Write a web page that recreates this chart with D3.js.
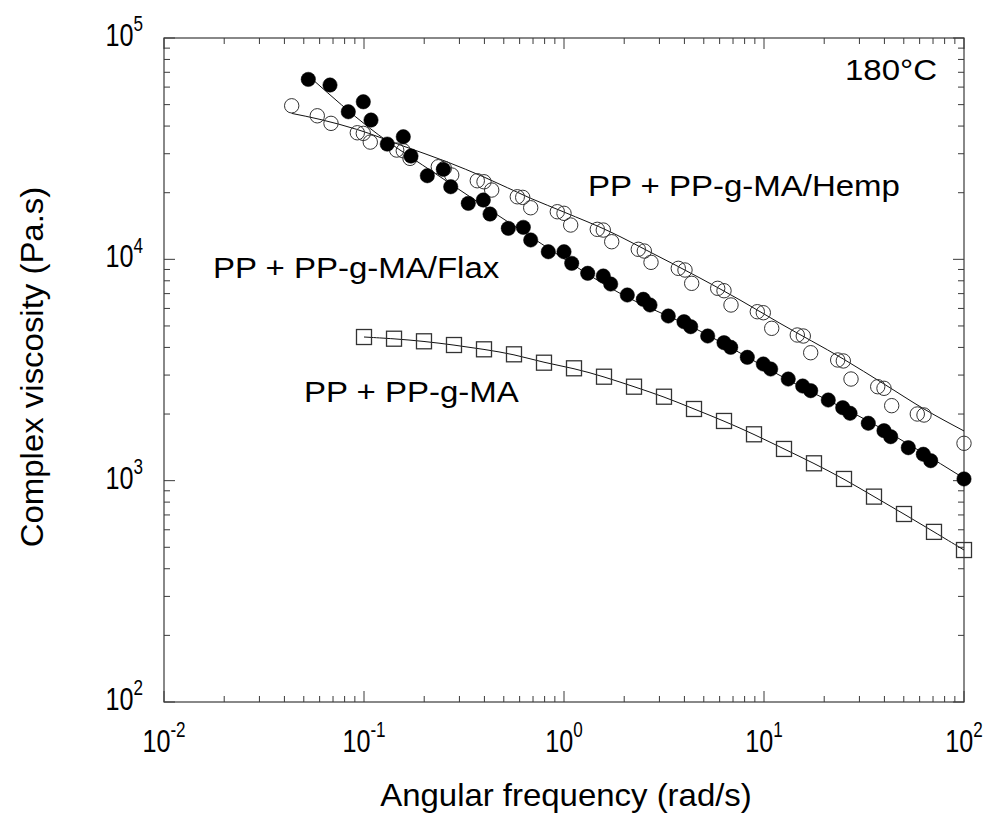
<!DOCTYPE html>
<html>
<head>
<meta charset="utf-8">
<script src="https://cdn.jsdelivr.net/npm/d3@7"></script>
<style>
  html, body { margin: 0; padding: 0; background: #fff; }
  svg { display: block; font-family: Arial, "Liberation Sans", sans-serif; }
</style>
</head>
<body>
<svg id="chart" width="992" height="819"></svg>
<script>
// Complex viscosity sweeps at 180 °C (rad/s vs Pa.s)

// PP + PP-g-MA/Hemp (open circles)
const hempFreq = [0.0435, 0.0584, 0.0684, 0.0926, 0.0992, 0.1075, 0.1457, 0.1572, 0.1698,
  0.2352, 0.2521, 0.2745, 0.3685, 0.3981, 0.435, 0.5841, 0.6216, 0.6816, 0.9258, 1.0, 1.08,
  1.467, 1.572, 1.732, 2.352, 2.521, 2.723, 3.728, 4.027, 4.35, 5.868, 6.31, 6.839,
  9.258, 9.92, 10.93, 14.67, 15.72, 17.12, 23.36, 24.92, 27.23, 37.03, 39.81, 43.5,
  58.41, 63.1, 100];
const hempVisc = [49400, 44520, 41150, 37310, 37080, 33860, 31170, 30940, 28590,
  26200, 25760, 24040, 22650, 22410, 20560, 19170, 19050, 17100, 16410, 16140, 14290,
  13660, 13560, 12010, 11100, 10900, 9692, 9106, 8948, 7791, 7396, 7214, 6219,
  5799, 5739, 4879, 4551, 4504, 3785, 3510, 3474, 2879, 2658, 2614, 2182,
  2001, 1980, 1475];

// PP + PP-g-MA/Flax (filled circles)
const flaxFreq = [0.05266, 0.06761, 0.08346, 0.0992, 0.1084, 0.1307, 0.1572, 0.1718,
  0.2073, 0.2492, 0.2714, 0.3322, 0.3949, 0.4266, 0.5266, 0.6259, 0.6816, 0.8346, 1.0, 1.093,
  1.314, 1.572, 1.712, 2.073, 2.492, 2.692, 3.322, 3.981, 4.3, 5.23, 6.31, 6.816,
  8.251, 9.92, 10.8, 13.22, 15.61, 17.12, 20.96, 24.75, 26.92, 33.22, 39.81, 43.0,
  52.66, 62.59, 68.16, 100];
const flaxVisc = [65010, 61300, 46420, 51500, 42580, 33170, 35790, 29280,
  23860, 25500, 21280, 17900, 18530, 16020, 13800, 13950, 12230, 10820, 10820, 9592,
  8647, 8407, 7734, 6900, 6597, 6219, 5545, 5226, 4962, 4504, 4201, 4004,
  3609, 3366, 3195, 2879, 2677, 2550, 2314, 2136, 2016, 1817, 1682, 1580,
  1409, 1316, 1231, 1018];

// PP + PP-g-MA (open squares)
const maFreq = [0.1, 0.1413, 0.1995, 0.2818, 0.3981, 0.5623, 0.7943, 1.122, 1.585, 2.239,
  3.162, 4.467, 6.31, 8.913, 12.59, 17.78, 25.12, 35.48, 50.12, 70.79, 100];
const maVisc = [4457, 4379, 4263, 4101, 3922, 3723, 3412, 3219, 2949, 2658,
  2395, 2108, 1861, 1620, 1391, 1198, 1018, 847, 707, 587, 486];

// Fitted curves
const hempFitFreq = [0.0435, 0.06026, 0.09194, 0.1572, 0.2592, 0.3981, 0.6816, 1.0, 1.698,
  2.692, 4.786, 7.586, 12.02, 24.92, 39.81, 63.1, 100];
const hempFitVisc = [45640, 42880, 38660, 32490, 27600, 23540, 18860, 16350, 13330,
  10790, 8233, 6549, 5139, 3546, 2734, 2108, 1677];
const flaxFitFreq = [0.05578, 0.1072, 0.2399, 0.6816, 1.905, 4.786, 13.49, 33.88, 100];
const flaxFitVisc = [64530, 39060, 23620, 12650, 7022, 4745, 2820, 1841, 1025];

// Axis decades
const xDecades = [-2, -1, 0, 1, 2];
const yDecades = [2, 3, 4, 5];

// In-plot annotations, placed in data coordinates
const labels = [
  { text: "180°C", x: 73.3, y: 64530, anchor: "end" },
  { text: "PP + PP-g-MA/Hemp", x: 1.318, y: 19310, anchor: "start" },
  { text: "PP + PP-g-MA/Flax", x: 0.01758, y: 8233, anchor: "start" },
  { text: "PP + PP-g-MA", x: 0.0501, y: 2267, anchor: "start" }
];

const svg = d3.select("#chart");
const margin = { left: 164, right: 28, top: 38, bottom: 117 };
const W = 992, H = 819;
const x = d3.scaleLog().domain([1e-2, 1e2]).range([margin.left, W - margin.right]);
const y = d3.scaleLog().domain([1e2, 1e5]).range([H - margin.bottom, margin.top]);

const axisColor = "#3a3a3a";
const x0 = x.range()[0], x1 = x.range()[1], y0 = y.range()[0], y1 = y.range()[1];

// ticks: majors at decades, minors at 2..9, drawn inward on all four sides
function tickVals(dom) {
  const out = [];
  for (let e = Math.log10(dom[0]); e < Math.log10(dom[1]); e++) {
    for (let m = 1; m < 10; m++) out.push({ v: m * Math.pow(10, e), major: m === 1 });
  }
  out.push({ v: dom[1], major: true });
  return out;
}
const majorLen = 11, minorLen = 6;
const tg = svg.append("g").attr("stroke", axisColor).attr("stroke-width", 1);
tickVals(x.domain()).forEach(t => {
  const px = x(t.v), L = t.major ? majorLen : minorLen;
  tg.append("line").attr("x1", px).attr("x2", px).attr("y1", y0).attr("y2", y0 - L);
  tg.append("line").attr("x1", px).attr("x2", px).attr("y1", y1).attr("y2", y1 + L);
});
tickVals(y.domain()).forEach(t => {
  const py = y(t.v), L = t.major ? majorLen : minorLen;
  tg.append("line").attr("x1", x0).attr("x2", x0 + L).attr("y1", py).attr("y2", py);
  tg.append("line").attr("x1", x1).attr("x2", x1 - L).attr("y1", py).attr("y2", py);
});
svg.append("rect").attr("x", x0).attr("y", y1).attr("width", x1 - x0).attr("height", y0 - y1)
  .attr("fill", "none").attr("stroke", axisColor).attr("stroke-width", 1.2);

// tick labels: 10 with a raised exponent, in a tall narrow face
function powLabel(g, e, px, py, anchor) {
  const t = g.append("text").attr("transform", `translate(${px},${py}) scale(0.9,1.13)`)
    .attr("text-anchor", anchor).attr("font-size", 28).attr("fill", "#000");
  t.append("tspan").text("10");
  t.append("tspan").attr("dy", -13).attr("font-size", 19).text(String(e));
}
const lg = svg.append("g");
xDecades.forEach(e => powLabel(lg, e, x(Math.pow(10, e)), y0 + 50, "middle"));
yDecades.forEach(e => powLabel(lg, e, x0 - 21, y(Math.pow(10, e)) + 8, "end"));

// axis titles
svg.append("text").attr("transform", `translate(${(x0 + x1) / 2 + 2},806) scale(1.08,1)`)
  .attr("text-anchor", "middle").attr("font-size", 30.5).text("Angular frequency (rad/s)");
svg.append("text").attr("transform", `translate(43,${(y0 + y1) / 2 - 3}) rotate(-90) scale(1.08,1)`)
  .attr("text-anchor", "middle").attr("font-size", 30.5).text("Complex viscosity (Pa.s)");

// fitted lines
const line = d3.line().x(d => x(d[0])).y(d => y(d[1]));
const plot = svg.append("g");
plot.append("path").datum(d3.zip(hempFitFreq, hempFitVisc))
  .attr("d", line.curve(d3.curveMonotoneX)).attr("fill", "none").attr("stroke", "#111").attr("stroke-width", 1);
plot.append("path").datum(d3.zip(flaxFitFreq, flaxFitVisc))
  .attr("d", line.curve(d3.curveMonotoneX)).attr("fill", "none").attr("stroke", "#111").attr("stroke-width", 1);
plot.append("path").datum(d3.zip(maFreq, maVisc))
  .attr("d", line.curve(d3.curveBasis)).attr("fill", "none").attr("stroke", "#111").attr("stroke-width", 1);

// markers
const r = 7.2, sq = 15;
plot.append("g").selectAll("rect").data(d3.zip(maFreq, maVisc)).join("rect")
  .attr("x", d => x(d[0]) - sq / 2).attr("y", d => y(d[1]) - sq / 2)
  .attr("width", sq).attr("height", sq).attr("fill", "none").attr("stroke", "#333").attr("stroke-width", 1.3);
plot.append("g").selectAll("circle").data(d3.zip(hempFreq, hempVisc)).join("circle")
  .attr("cx", d => x(d[0])).attr("cy", d => y(d[1])).attr("r", r)
  .attr("fill", "none").attr("stroke", "#333").attr("stroke-width", 1);
plot.append("g").selectAll("circle").data(d3.zip(flaxFreq, flaxVisc)).join("circle")
  .attr("cx", d => x(d[0])).attr("cy", d => y(d[1])).attr("r", r)
  .attr("fill", "#000").attr("stroke", "#000").attr("stroke-width", 0.5);

// annotations
svg.append("g").selectAll("text").data(labels).join("text")
  .attr("transform", d => `translate(${x(d.x)},${y(d.y)}) scale(1.1,1)`)
  .attr("text-anchor", d => d.anchor)
  .attr("font-size", 30).attr("fill", "#000").text(d => d.text);
</script>
</body>
</html>
